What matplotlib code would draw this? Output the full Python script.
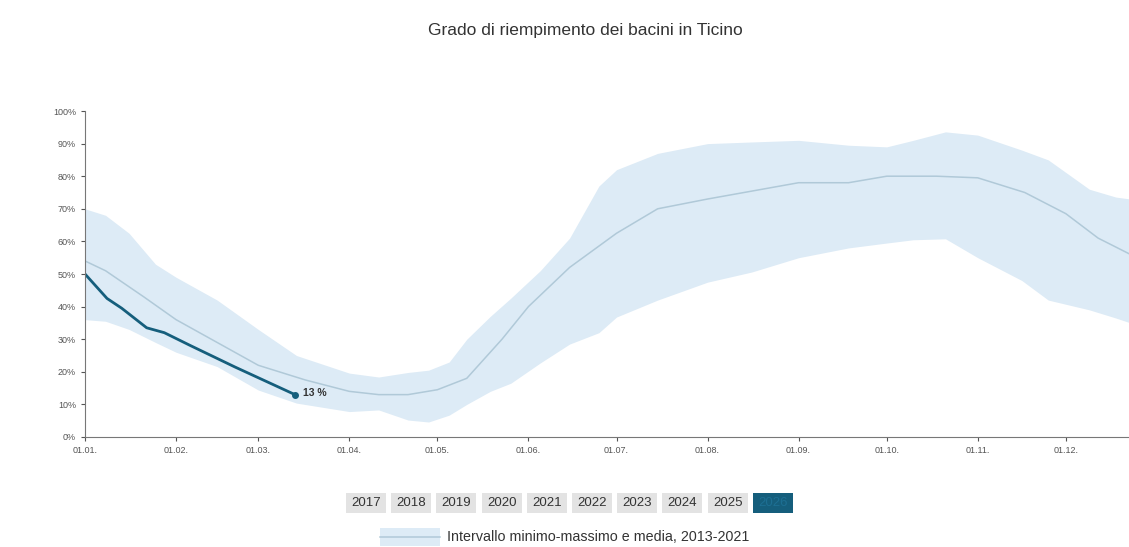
import matplotlib.pyplot as plt
from matplotlib.patches import Rectangle

plt.rcParams['font.family'] = ['Liberation Sans', 'DejaVu Sans']

# day of year (0 = 01.01) and filling level in %
cur_days = [0, 7.5, 12.5, 21, 27, 36, 51, 71.5]
cur_vals = [50, 42.5, 39.5, 33.5, 32, 28, 21.5, 13]

mean_days = [0, 7, 20, 31, 45, 59, 75, 90, 100, 110, 120, 130, 142, 151, 165, 181, 195, 212,
             243, 260, 273, 290, 304, 320, 334, 345, 356]
mean_vals = [54, 51, 43, 36, 29, 22, 17.5, 14, 13, 13, 14.5, 18, 30, 40, 52, 62.5, 70, 73,
             78, 78, 80, 80, 79.5, 75, 68.5, 61, 56]

band_days = [0, 7, 15, 24, 31, 45, 59, 72, 90, 100, 110, 117, 124, 130, 138, 145, 155, 165,
             175, 181, 195, 212, 227, 243, 260, 273, 282, 293, 304, 319, 328, 342, 351, 356]
band_hi = [70, 68, 62.5, 53, 49, 42, 33, 25, 19.6, 18.4, 19.8, 20.5, 23, 30, 37, 42.6, 51, 61,
           77, 82, 87, 90, 90.5, 91, 89.5, 89, 91, 93.6, 92.6, 88, 85, 76, 73.6, 73]
band_lo = [36, 35.5, 33, 29, 26, 21.6, 14.4, 10.4, 7.8, 8.3, 5.2, 4.6, 6.7, 10, 14, 16.5, 22.7,
           28.5, 32, 36.8, 42, 47.5, 50.6, 55, 58, 59.5, 60.5, 60.8, 55, 48, 42, 39, 36.5, 35]

month_days = [0, 31, 59, 90, 120, 151, 181, 212, 243, 273, 304, 334]
month_labels = ['01.01.', '01.02.', '01.03.', '01.04.', '01.05.', '01.06.',
                '01.07.', '01.08.', '01.09.', '01.10.', '01.11.', '01.12.']
years = ['2017', '2018', '2019', '2020', '2021', '2022', '2023', '2024', '2025', '2026']

band_col = '#ddebf6'
mean_col = '#b0c9d8'
cur_col = '#155e7c'

W, H = 1129, 547
fig = plt.figure(figsize=(W / 100, H / 100), dpi=100)
ax = fig.add_axes([85 / W, 1 - 437 / H, 1 - 85 / W, 326 / H])

ax.fill_between(band_days, band_lo, band_hi, color=band_col, lw=0)
ax.plot(mean_days, mean_vals, color=mean_col, lw=1.1)
ax.plot(cur_days, cur_vals, color=cur_col, lw=2)
ax.plot(cur_days[-1], cur_vals[-1], 'o', color=cur_col, ms=4)
ax.annotate('%d %%' % cur_vals[-1], (cur_days[-1], cur_vals[-1]), xytext=(6, 1),
            textcoords='offset points', fontsize=7.5, fontweight='bold', color='#333333',
            va='center')

ax.set_xlim(0, 355.5)
ax.set_ylim(0, 100)
ax.set_xticks(month_days)
ax.set_xticklabels(month_labels)
ax.set_yticks(range(0, 101, 10))
ax.set_yticklabels(['%d%%' % v for v in range(0, 101, 10)])
ax.tick_params(labelsize=6.5, colors='#555555', length=3, width=0.8)
for s in ['top', 'right']:
    ax.spines[s].set_visible(False)
for s in ['left', 'bottom']:
    ax.spines[s].set_color('#777777')

fig.text(585 / W, 1 - 30 / H, 'Grado di riempimento dei bacini in Ticino',
         ha='center', va='center', fontsize=12.5, color='#333333')

# year selector buttons
for i, y in enumerate(years):
    cx = 366 + i * 45.2
    sel = y == '2026'
    fig.patches.append(Rectangle(((cx - 20) / W, 1 - 513 / H), 40 / W, 20 / H,
                                 transform=fig.transFigure,
                                 color=cur_col if sel else '#e3e3e3', lw=0))
    fig.text(cx / W, 1 - 503 / H, y, ha='center', va='center', fontsize=9.5,
             color='#1d6f93' if sel else '#333333')

# range legend
fig.patches.append(Rectangle((380 / W, 1 - 546 / H), 60 / W, 18 / H,
                             transform=fig.transFigure, color=band_col, lw=0))
fig.lines.append(plt.Line2D([380 / W, 440 / W], [1 - 537 / H, 1 - 537 / H],
                            transform=fig.transFigure, color=mean_col, lw=1.1))
fig.text(447 / W, 1 - 537 / H, 'Intervallo minimo-massimo e media, 2013-2021',
         ha='left', va='center', fontsize=10.3, color='#333333')

fig.savefig('out.png', dpi=100)
